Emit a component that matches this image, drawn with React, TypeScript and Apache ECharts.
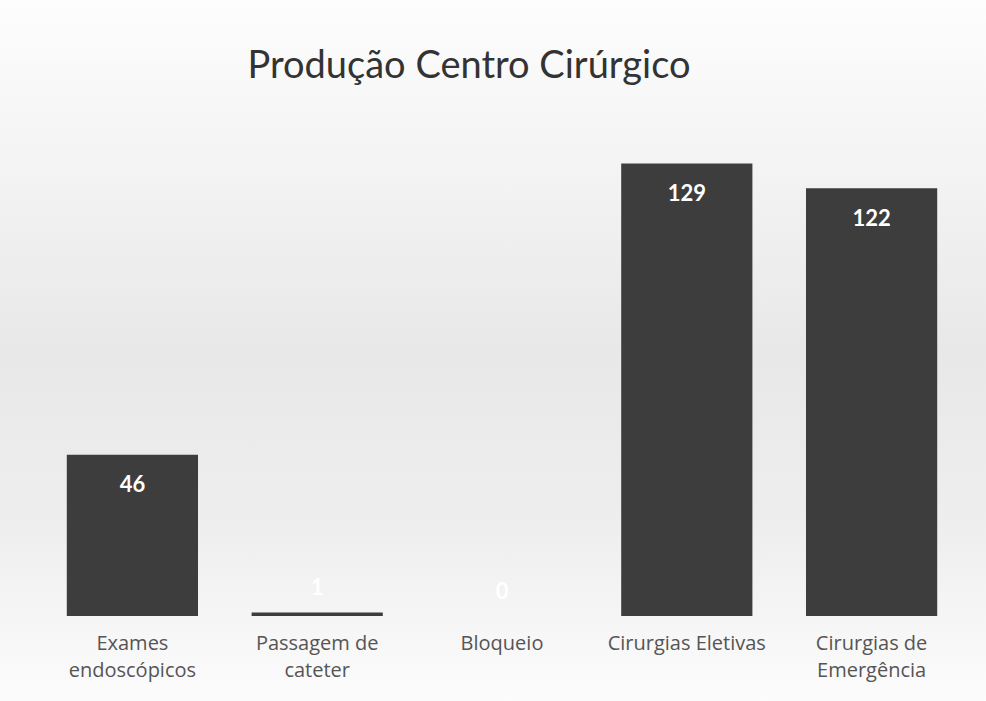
import React, { useEffect, useRef } from "react";
import * as echarts from "echarts";

const title = "Produção Centro Cirúrgico";
const categories = [
  "Exames\nendoscópicos",
  "Passagem de\ncateter",
  "Bloqueio",
  "Cirurgias Eletivas",
  "Cirurgias de\nEmergência",
];
const values = [46, 1, 0, 129, 122];

export default function App() {
  const ref = useRef<HTMLDivElement>(null);
  useEffect(() => {
    document.body.style.margin = "0";
    if (!ref.current) return;
    const chart = echarts.init(ref.current, null, { renderer: "svg" });
    chart.setOption({
      animation: false,
      backgroundColor: {
        type: "linear",
        x: 0,
        y: 0,
        x2: 0,
        y2: 1,
        colorStops: [
          { offset: 0, color: "#fdfdfd" },
          { offset: 0.25, color: "#f3f3f3" },
          { offset: 0.5, color: "#e8e8e8" },
          { offset: 0.75, color: "#eeeeee" },
          { offset: 1, color: "#fcfcfc" },
        ],
      },
      title: {
        text: title,
        left: 464,
        textAlign: "center",
        top: 39,
        textStyle: {
          fontFamily: "Lato",
          fontWeight: "normal",
          fontSize: 38,
          color: "#333333",
        },
      },
      grid: { left: 40, right: 22, top: 125, bottom: 85 },
      xAxis: {
        type: "category",
        data: categories,
        axisLine: { show: false },
        axisTick: { show: false },
        axisLabel: {
          interval: 0,
          margin: 13,
          fontFamily: "Open Sans",
          fontSize: 20,
          lineHeight: 27,
          color: "#555555",
        },
      },
      yAxis: {
        type: "value",
        min: 0,
        max: 140,
        show: false,
        splitLine: { show: false },
      },
      series: [
        {
          type: "bar",
          barCategoryGap: "29%",
          data: values.map((v) => ({
            value: v,
            label:
              v < 5
                ? { position: "top", distance: 15 }
                : { position: "insideTop", distance: 18 },
          })),
          itemStyle: { color: "#3d3d3d" },
          label: {
            show: true,
            color: "#ffffff",
            fontFamily: "Lato",
            fontWeight: "bold",
            fontSize: 22,
          },
        },
      ],
    });
    return () => chart.dispose();
  }, []);
  return <div ref={ref} style={{ width: 986, height: 701 }} />;
}
